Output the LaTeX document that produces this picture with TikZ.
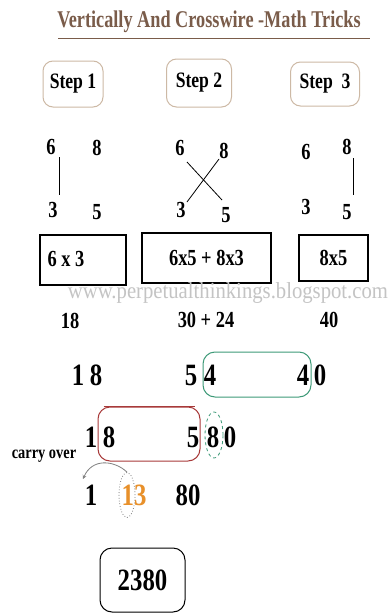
\documentclass[tikz,border=0pt]{standalone}
\usepackage{fontspec}
\setmainfont{Liberation Serif}
\newfontfamily\cf[FakeStretch=0.8]{Liberation Serif}
\newfontfamily\tf[FakeStretch=0.76]{Liberation Serif}
\newfontfamily\wf[FakeStretch=0.9]{Liberation Serif}
\usetikzlibrary{shapes.geometric,arrows.meta}
\definecolor{titlec}{HTML}{7A5C4A}
\definecolor{stepc}{HTML}{CDB9A5}
\definecolor{greenc}{HTML}{3E9A78}
\definecolor{redc}{HTML}{A83A3A}
\definecolor{orangec}{HTML}{E8902A}
\definecolor{wmc}{HTML}{C4C4C4}
\tikzset{
  txt/.style={inner sep=0pt, font=\cf\bfseries\fontsize{23}{23}\selectfont},
  big/.style={inner sep=0pt, font=\cf\bfseries\fontsize{31}{31}\selectfont},
  stepbox/.style={draw=stepc, line width=1pt, rounded corners=10pt, fill=white, inner sep=0pt, font=\cf\bfseries\fontsize{22}{22}\selectfont},
  sqbox/.style={draw=black, line width=1.3pt, inner sep=0pt},
  link/.style={draw=black, line width=0.8pt},
}
\begin{document}
\begin{tikzpicture}[x=1pt,y=-1pt]
\useasboundingbox (0,0) rectangle (389,613);
\fill[white] (0,0) rectangle (389,613);
% title
\node[inner sep=0pt, text=titlec, font=\tf\bfseries\fontsize{24}{24}\selectfont] (title) at (209,22) {Vertically And Crosswire -Math Tricks};
\draw[titlec, line width=0.9pt] (58,38) -- (370,38);
% step boxes
\node[stepbox, minimum width=60pt, minimum height=46pt] (s1) at (73,84) {Step 1};
\node[stepbox, minimum width=65pt, minimum height=48pt] (s2) at (199,83) {Step 2};
\node[stepbox, minimum width=69pt, minimum height=44pt] (s3) at (325,84) {Step\ \ 3};
% step 1 digits
\node[txt] (a6) at (51,147) {6};
\node[txt] (a8) at (97,148) {8};
\node[txt] (a3) at (53,210) {3};
\node[txt] (a5) at (97,212) {5};
\draw[link] ([shift={(8,10)}]a6.center) -- ([shift={(6,-15)}]a3.center);
% step 2 digits
\node[txt] (b6) at (180,148) {6};
\node[txt] (b8) at (224,151) {8};
\node[txt] (b3) at (181,210) {3};
\node[txt] (b5) at (226,215) {5};
\draw[link] ([shift={(7,14)}]b6.center) -- ([shift={(-4,-15)}]b5.center);
\draw[link] ([shift={(-5,8)}]b8.center) -- ([shift={(6,-8)}]b3.center);
% step 3 digits
\node[txt] (c6) at (306,152) {6};
\node[txt] (c8) at (347,147) {8};
\node[txt] (c3) at (306,207) {3};
\node[txt] (c5) at (347,212) {5};
\draw[link] ([shift={(6,11)}]c8.center) -- ([shift={(6,-17)}]c5.center);
% product boxes
\node[sqbox, minimum width=86pt, minimum height=50pt] (p1) at (83,260) {};
\node[txt] (p1t) at (66,259) {6 x 3};
\node[sqbox, minimum width=129pt, minimum height=50pt, font=\cf\bfseries\fontsize{23}{23}\selectfont] (p2) at (206.5,258) {6x5 + 8x3};
\node[sqbox, minimum width=69pt, minimum height=46pt, font=\cf\bfseries\fontsize{23}{23}\selectfont] (p3) at (333.5,258) {8x5};
% watermark
\node[inner sep=0pt, text=wmc, font=\wf\fontsize{23}{23}\selectfont] (wm) at (228,293) {www.perpetualthinkings.blogspot.com};
% results
\node[txt] (r1) at (70,321) {18};
\node[txt] (r2) at (206,320) {30 + 24};
\node[txt] (r3) at (329,320) {40};
% row 2
\node[draw=greenc, line width=1pt, rounded corners=12pt, minimum width=108pt, minimum height=45pt, inner sep=0pt] (gbox) at (257,374.5) {};
\node[big] (d1) at (78,375) {1};
\node[big] (d2) at (96,375) {8};
\node[big] (d3) at (191,375) {5};
\node[big] (d4) at (210,375) {4};
\node[big] (d5) at (303,375) {4};
\node[big] (d6) at (320,375) {0};
% row 3
\node[draw=redc, line width=1pt, rounded corners=12pt, minimum width=102pt, minimum height=54pt, inner sep=0pt] (rbox) at (149,434) {};
\draw[redc, line width=1.6pt] ([xshift=6pt]rbox.north west) -- ([xshift=-6pt]rbox.north east);
\node[draw=greenc, dashed, line width=0.8pt, ellipse, minimum width=18pt, minimum height=46pt, inner sep=0pt] (gell) at (214,435) {};
\node[big] (e1) at (91,437) {1};
\node[big] (e2) at (109,437) {8};
\node[big] (e3) at (193,437) {5};
\node[big] (e4) at (213,437) {8};
\node[big] (e5) at (230,437) {0};
% carry over
\node[inner sep=0pt, font=\cf\bfseries\fontsize{18}{18}\selectfont] (carry) at (44,456) {carry over};
% row 4
\node[big] (f1) at (91,495) {1};
\node[big, text=orangec] (f2) at (134,495) {13};
\node[big] (f3) at (188,495) {80};
\node[draw=gray, dotted, line width=0.8pt, ellipse, minimum width=16pt, minimum height=45pt, inner sep=0pt] (oell) at (127,495) {};
\draw[gray, line width=0.8pt, -{Stealth[length=4pt,width=4pt]}] (oell.north) .. controls (114,460) and (92,458) .. (83,479);
% answer
\node[draw=black, line width=1pt, rounded corners=12pt, minimum width=85pt, minimum height=64pt, inner sep=0pt, font=\cf\bfseries\fontsize{31}{31}\selectfont] (ans) at (142.5,580) {2380};
\end{tikzpicture}
\end{document}
